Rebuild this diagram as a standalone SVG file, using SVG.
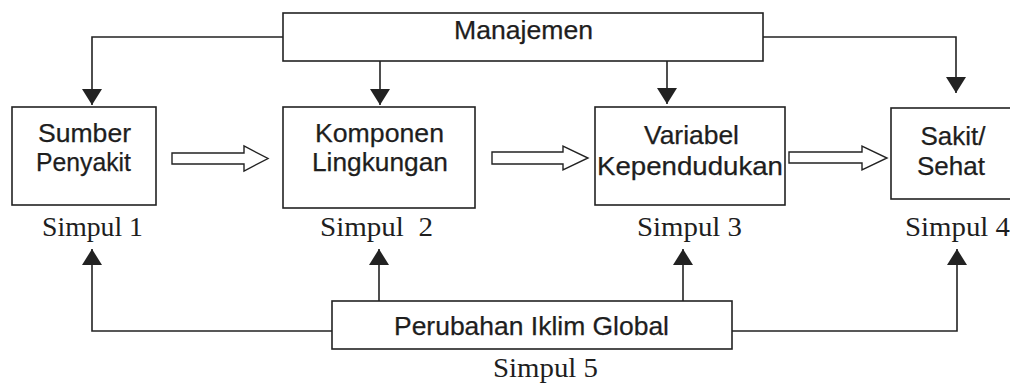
<svg xmlns="http://www.w3.org/2000/svg" width="1010" height="383" viewBox="0 0 1010 383">
<style>
.box{fill:#fff;stroke:#222;stroke-width:1.6}
.ln{fill:none;stroke:#222;stroke-width:1.6}
.blk{fill:#fff;stroke:#222;stroke-width:1.4;stroke-linejoin:miter}
.t{font-family:"Liberation Sans",Arial,Helvetica,sans-serif;font-size:26px;fill:#1e1e1e;stroke:#1e1e1e;stroke-width:0.25}
.c{text-anchor:middle}
.s{font-family:"Liberation Serif","Times New Roman",serif;font-size:27px;fill:#1e1e1e}
</style>
<defs>
<marker id="ah" viewBox="0 0 16 20" refX="16" refY="10" markerWidth="16" markerHeight="20" markerUnits="userSpaceOnUse" orient="auto">
<path d="M0,0 L16,10 L0,20 Z" fill="#222"/>
</marker>
</defs>
<rect width="1010" height="383" fill="#fff"/>
<g id="connectors">
<path class="ln" d="M283,37 H92 V105" marker-end="url(#ah)"/>
<path class="ln" d="M380,61 V105" marker-end="url(#ah)"/>
<path class="ln" d="M667,59 V104" marker-end="url(#ah)"/>
<path class="ln" d="M763,37 H956 V93" marker-end="url(#ah)"/>
<path class="ln" d="M332,331 H92 V249" marker-end="url(#ah)"/>
<path class="ln" d="M379,301 V249" marker-end="url(#ah)"/>
<path class="ln" d="M683,301 V249" marker-end="url(#ah)"/>
<path class="ln" d="M732,331 H957 V249" marker-end="url(#ah)"/>
<path class="blk" d="M172,153 H244 V146 L268,158.5 L244,171 V164 H172 Z"/>
<path class="blk" d="M492,152 H563 V146 L588,158 L563,170 V164 H492 Z"/>
<path class="blk" d="M789,152 H862 V146 L887,158 L862,170 V163 H789 Z"/>
</g>
<g id="manajemen">
<rect class="box" x="283" y="13" width="480" height="48"/>
<text class="t" x="454" y="39" textLength="139" lengthAdjust="spacingAndGlyphs">Manajemen</text>
</g>
<g id="simpul1">
<rect class="box" x="12" y="107" width="144" height="98"/>
<text class="t" x="38" y="142" textLength="93" lengthAdjust="spacingAndGlyphs">Sumber</text>
<text class="t" x="36" y="171" textLength="95" lengthAdjust="spacingAndGlyphs">Penyakit</text>
<text class="s" x="42" y="236" textLength="101" lengthAdjust="spacingAndGlyphs">Simpul 1</text>
</g>
<g id="simpul2">
<rect class="box" x="283" y="107" width="192" height="101"/>
<text class="t" x="315" y="142" textLength="129" lengthAdjust="spacingAndGlyphs">Komponen</text>
<text class="t" x="312" y="171" textLength="136" lengthAdjust="spacingAndGlyphs">Lingkungan</text>
<text class="s" x="320" y="236" textLength="113" lengthAdjust="spacingAndGlyphs" xml:space="preserve">Simpul  2</text>
</g>
<g id="simpul3">
<rect class="box" x="595" y="107" width="190" height="98"/>
<text class="t" x="644" y="144" textLength="95" lengthAdjust="spacingAndGlyphs">Variabel</text>
<text class="t" x="597" y="175" textLength="186" lengthAdjust="spacingAndGlyphs">Kependudukan</text>
<text class="s" x="637" y="236" textLength="105" lengthAdjust="spacingAndGlyphs">Simpul 3</text>
</g>
<g id="simpul4">
<rect class="box" x="891" y="108" width="125" height="91"/>
<text class="t c" x="953" y="145">Sakit/</text>
<text class="t c" x="951" y="175">Sehat</text>
<text class="s" x="905" y="236" textLength="105" lengthAdjust="spacingAndGlyphs">Simpul 4</text>
</g>
<g id="simpul5">
<rect class="box" x="332" y="301" width="400" height="48"/>
<text class="t" x="394" y="335" textLength="275" lengthAdjust="spacingAndGlyphs">Perubahan Iklim Global</text>
<text class="s" x="493" y="377" textLength="105" lengthAdjust="spacingAndGlyphs">Simpul 5</text>
</g>
</svg>
